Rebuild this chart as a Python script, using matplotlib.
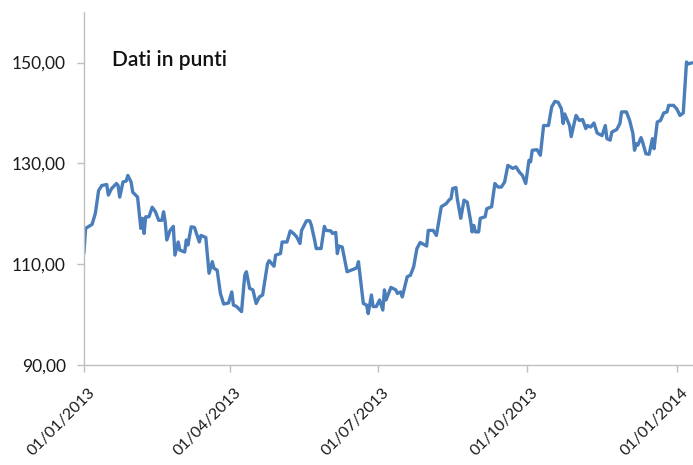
"""Andamento indice 2013 - dati in punti."""

import matplotlib

matplotlib.use("Agg")

import matplotlib.dates as mdates
import matplotlib.pyplot as plt
import matplotlib.transforms as mtransforms
import numpy as np

plt.rcParams["font.family"] = ["Lato", "DejaVu Sans"]

START_DATE = "2013-01-01"
DAY_OFFSET = [
    0, 1, 4, 5, 7, 9, 11, 14, 15, 17, 20, 21, 22, 24, 26, 27, 29, 30, 33, 35,
    36, 37, 38, 40, 42, 44, 46, 48, 49, 50, 51, 53, 55, 56, 58, 59, 62, 63, 64, 66,
    68, 71, 72, 75, 77, 79, 80, 82, 84, 86, 89, 91, 92, 94, 97, 99, 100, 102, 104, 106,
    108, 110, 113, 114, 117, 118, 121, 122, 125, 127, 129, 131, 133, 134, 137, 139, 140, 142, 143, 146,
    148, 149, 152, 153, 155, 156, 157, 159, 162, 166, 168, 169, 172, 174, 175, 177, 178, 180, 182, 184,
    185, 186, 189, 192, 193, 195, 196, 199, 201, 203, 205, 207, 211, 212, 215, 217, 220, 223, 225, 226,
    227, 229, 230, 232, 234, 236, 238, 239, 240, 241, 243, 244, 247, 248, 251, 253, 255, 257, 259, 261,
    264, 266, 268, 270, 272, 274, 275, 276, 279, 281, 283, 286, 288, 290, 292, 294, 295, 296, 299, 300,
    302, 303, 305, 307, 309, 310, 312, 314, 316, 319, 321, 322, 324, 325, 328, 330, 331, 334, 336, 338,
    339, 340, 341, 343, 344, 346, 348, 350, 351, 353, 355, 357, 359, 360, 363, 365, 367, 369, 371, 372,
    374,
]
VALUES = [
    112.4, 117.1, 117.7, 117.9, 120.1, 124.6, 125.6, 125.8, 123.7, 125.0, 126.0, 125.6, 123.3, 126.3, 126.5, 127.6, 126.3, 124.3, 123.3, 117.1,
    119.1, 116.1, 119.4, 119.4, 121.3, 120.4, 118.7, 118.7, 120.4, 118.4, 114.8, 116.7, 117.5, 111.8, 114.4, 112.8, 112.4, 114.8, 113.8, 117.4,
    117.3, 114.4, 115.7, 115.3, 108.2, 110.5, 109.2, 108.8, 104.2, 102.1, 102.3, 104.5, 101.9, 101.6, 100.6, 107.8, 108.5, 105.2, 104.9, 102.2,
    103.5, 103.9, 110.1, 110.7, 109.6, 111.8, 112.1, 114.4, 114.4, 116.6, 116.1, 115.4, 114.1, 116.7, 118.6, 118.6, 117.7, 114.8, 113.1, 113.1,
    117.5, 116.7, 116.6, 116.1, 116.3, 112.1, 113.6, 113.4, 108.5, 109.0, 109.3, 110.5, 102.2, 101.9, 100.2, 103.9, 101.6, 101.6, 102.9, 100.9,
    104.9, 102.9, 105.4, 104.9, 104.2, 104.5, 103.5, 107.5, 107.8, 109.5, 113.1, 114.3, 113.6, 116.7, 116.7, 115.7, 121.4, 122.0, 122.8, 123.0,
    125.0, 125.2, 122.7, 119.1, 122.7, 122.3, 118.7, 116.4, 117.7, 116.4, 116.4, 119.1, 119.4, 121.0, 121.4, 126.0, 125.3, 125.3, 126.3, 129.6,
    129.0, 129.3, 128.3, 127.6, 126.0, 130.6, 130.3, 132.6, 132.7, 131.6, 137.5, 137.5, 141.2, 142.3, 142.1, 140.8, 137.9, 139.8, 137.5, 135.3,
    138.2, 139.5, 138.5, 138.7, 136.9, 137.5, 137.2, 138.0, 136.0, 135.5, 137.5, 134.9, 134.6, 136.2, 136.7, 137.9, 140.2, 140.2, 138.5, 135.9,
    132.6, 133.9, 133.6, 135.1, 134.2, 131.9, 131.8, 134.9, 132.9, 138.2, 138.5, 140.0, 140.2, 141.5, 141.5, 140.8, 139.5, 140.0, 150.1, 149.7,
    149.9,
]
TICK_DATES = ["2013-01-01", "2013-04-01", "2013-07-01", "2013-10-01", "2014-01-01"]
Y_TICKS = [90, 110, 130, 150]

AXIS_GREY = "#bfbfbf"
LINE_BLUE = "#4a7ebb"


def main():
    dates = np.datetime64(START_DATE) + np.array(DAY_OFFSET).astype("timedelta64[D]")

    fig = plt.figure(figsize=(6.93, 4.65), dpi=100)
    ax = fig.add_axes([0.1212, 0.215, 0.8788, 0.759])

    ax.plot(dates, VALUES, color=LINE_BLUE, linewidth=2.4, solid_joinstyle="round")

    ax.set_xlim(np.datetime64(START_DATE), np.datetime64(START_DATE) + np.timedelta64(375, "D"))
    ax.set_ylim(90, 160)
    ax.set_yticks(Y_TICKS)
    ax.yaxis.set_major_formatter(
        matplotlib.ticker.FuncFormatter(lambda v, _: f"{v:.2f}".replace(".", ","))
    )
    ax.set_xticks([np.datetime64(d) for d in TICK_DATES])
    ax.xaxis.set_major_formatter(mdates.DateFormatter("%d/%m/%Y"))

    for side in ("top", "right"):
        ax.spines[side].set_visible(False)
    for side in ("left", "bottom"):
        ax.spines[side].set_color(AXIS_GREY)
        ax.spines[side].set_linewidth(1.0)

    ax.tick_params(axis="y", colors=AXIS_GREY, length=5, width=1.0, labelsize=12.5,
                   labelcolor="#1a1a1a", pad=8)
    ax.tick_params(axis="x", colors=AXIS_GREY, length=5, width=1.0, labelsize=11.5,
                   labelcolor="#1a1a1a", pad=10)
    shift = mtransforms.ScaledTranslation(4 / 100, 0, fig.dpi_scale_trans)
    for lbl in ax.get_xticklabels():
        lbl.set_rotation(45)
        lbl.set_ha("right")
        lbl.set_va("top")
        lbl.set_rotation_mode("anchor")
        lbl.set_transform(lbl.get_transform() + shift)

    fig.text(112 / 693, 1 - 60 / 465, "Dati in punti", fontsize=15,
             fontweight="semibold", color="#111111", va="center", ha="left")

    fig.savefig("out.png", dpi=100)
    plt.close(fig)


if __name__ == "__main__":
    main()
